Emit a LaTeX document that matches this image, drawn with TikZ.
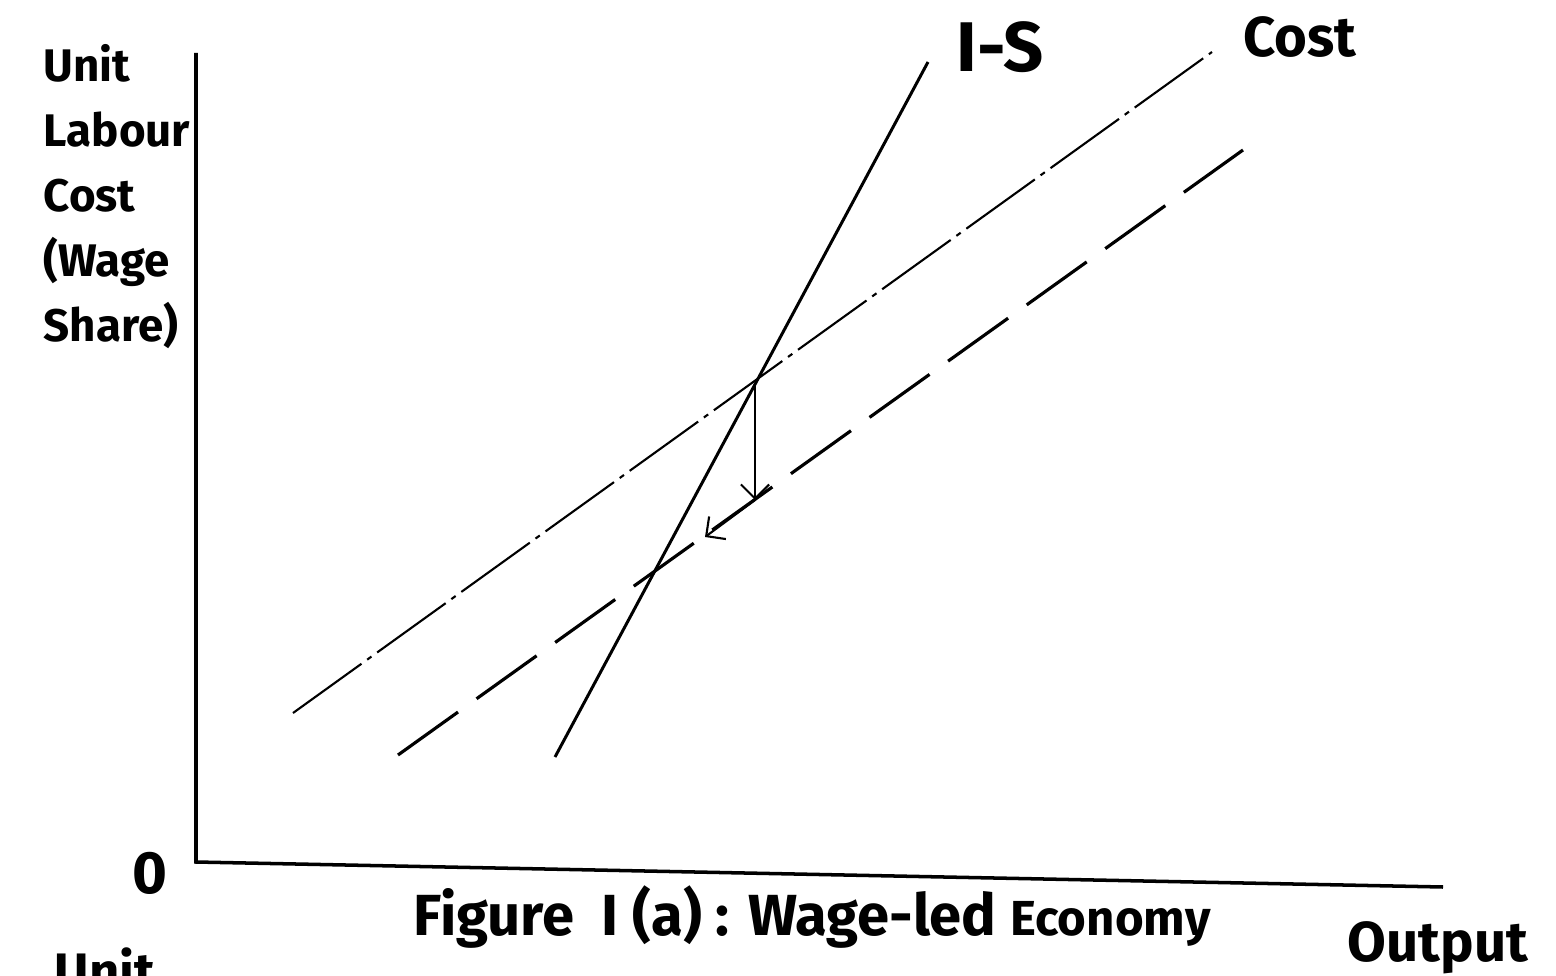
\documentclass[tikz,border=0pt]{standalone}
\usepackage{fontspec}
\setmainfont{Fira Sans}
\usetikzlibrary{arrows.meta}

\begin{document}
\begin{tikzpicture}[
    axis/.style={line width=1pt},
    isline/.style={line width=0.85pt},
    costline/.style={line width=0.6pt, dash pattern=on 24pt off 2pt on 1.5pt off 2pt},
    newcost/.style={line width=0.9pt, dash pattern=on 21pt off 6.5pt},
    move/.style={line width=0.6pt, -{Straight Barb[length=4pt,width=8pt]}},
    lbl/.style={font=\bfseries\fontsize{15}{18}\selectfont, inner sep=0pt}
]
    \useasboundingbox (-1.96,-1.13) rectangle (13.60,8.62);

    % Axes
    \coordinate (O) at (0,0);
    \coordinate (Ytop) at (0,8.09);
    \coordinate (Xend) at (12.47,-0.25);
    \draw[axis] (Ytop) -- (O) -- (Xend);
    \node[lbl, anchor=north west, align=left, font=\bfseries\fontsize{13}{18.5}\selectfont] (ylab) at (-1.53,8.18)
        {Unit\\Labour\\Cost\\(Wage\\Share)};
    \node[lbl, font=\bfseries\fontsize{17}{20}\selectfont] (zero) at (-0.46,-0.11) {0};
    \node[lbl, anchor=base, font=\bfseries\fontsize{16}{20}\selectfont] (xlab) at (12.42,-0.99) {Output};

    % I-S curve
    \coordinate (IS1) at (3.59,1.05);
    \coordinate (IS2) at (7.32,8.00);
    \draw[isline] (IS1) -- (IS2);
    \node[lbl, font=\bfseries\fontsize{20}{24}\selectfont] (islab) at (8.04,8.15) {I-S};

    % Cost line, old and new (dashed)
    \coordinate (C1) at (0.97,1.49);
    \coordinate (C2) at (10.16,8.10);
    \draw[costline] (C1) -- (C2);
    \node[lbl, font=\bfseries\fontsize{16}{20}\selectfont] (costlab) at (11.04,8.25) {Cost};

    \coordinate (D1) at (2.02,1.07);
    \coordinate (D2) at (10.47,7.12);
    \draw[newcost] (D1) -- (D2);

    % Shift of the equilibrium
    \coordinate (E) at (5.59,4.79);
    \coordinate (F) at (5.59,3.62);
    \coordinate (G) at (5.09,3.25);
    \draw[move] (E) -- (F);
    \draw[move] (F) -- (G);

    % Caption
    \node[lbl, anchor=base, font=\bfseries\fontsize{16.5}{20}\selectfont] (cap) at (6.16,-0.73)
        {Figure~~I (a) : Wage-led {\fontsize{14}{16}\selectfont Economy}};
    \node[lbl, anchor=north west] (nextlab) at (-1.42,-0.85) {Unit};
\end{tikzpicture}
\end{document}
